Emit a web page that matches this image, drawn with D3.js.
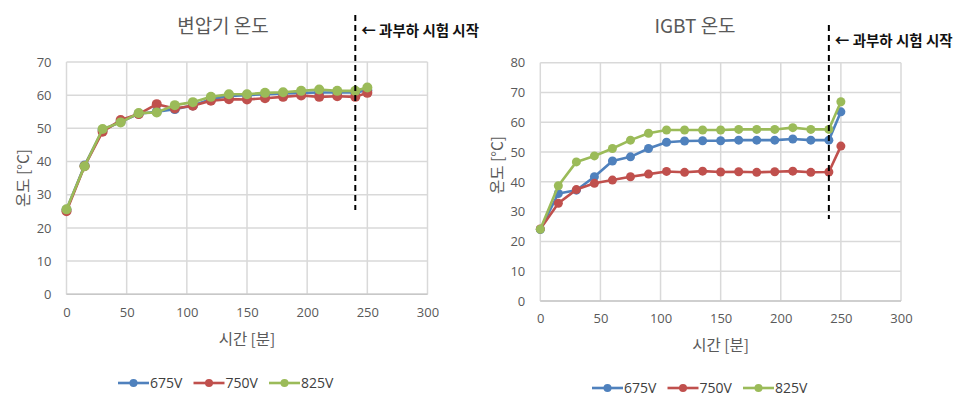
<!DOCTYPE html>
<html><head><meta charset="utf-8">
<script src="https://cdn.jsdelivr.net/npm/d3@7"></script>
<style>
body{margin:0;background:#fff;}
text{font-family:"Noto Sans CJK KR","Noto Sans",sans-serif;}
</style></head>
<body><svg id="c" width="968" height="411"></svg>
<script>
const times = [0,15,30,45,60,75,90,105,120,135,150,165,180,195,210,225,240,250];
const seriesNames = ["675V","750V","825V"];
const colors = ["#4f81bd","#c0504d","#9bbb59"];
// 변압기 온도
const trans675 = [25.5,38.8,49.5,52.0,54.4,55.0,55.8,56.9,58.8,59.8,60.0,60.3,60.5,60.7,60.8,60.8,60.8,61.5];
const trans750 = [25.0,38.6,49.0,52.5,54.3,57.3,56.0,56.8,58.3,58.8,58.7,59.1,59.5,59.9,59.5,59.7,59.5,60.7];
const trans825 = [25.6,38.6,49.8,51.8,54.6,54.8,57.0,57.9,59.5,60.3,60.3,60.7,60.9,61.3,61.7,61.3,61.3,62.3];
// IGBT 온도
const igbt675 = [24.0,36.1,37.2,41.7,47.0,48.4,51.2,53.3,53.7,53.8,53.8,54.0,54.0,54.0,54.4,54.0,54.0,63.5];
const igbt750 = [24.2,32.8,37.4,39.5,40.6,41.7,42.6,43.5,43.2,43.6,43.3,43.4,43.2,43.4,43.6,43.2,43.3,52.0];
const igbt825 = [24.1,38.7,46.7,48.7,51.2,54.0,56.3,57.4,57.4,57.4,57.4,57.6,57.6,57.6,58.2,57.6,57.6,66.9];
const xTicks = [0,50,100,150,200,250,300];
const yTicksLeft = [0,10,20,30,40,50,60,70];
const yTicksRight = [0,10,20,30,40,50,60,70,80];
const overloadTime = 240;
const annotation = "← 과부하 시험 시작";

const svg = d3.select("#c");

function drawChart(cfg){
  const g = svg.append("g");
  const x = d3.scaleLinear().domain([0,300]).range([cfg.x0,cfg.x1]);
  const y = d3.scaleLinear().domain([0,cfg.ymax]).range([cfg.y0,cfg.y1]);
  // gridlines
  g.append("g").selectAll("line").data(cfg.yTicks).join("line")
    .attr("x1",x(0)).attr("x2",x(300)).attr("y1",d=>y(d)).attr("y2",d=>y(d))
    .attr("stroke","#d9d9d9").attr("stroke-width",1.5);
  g.append("g").selectAll("line").data(xTicks).join("line")
    .attr("x1",d=>x(d)).attr("x2",d=>x(d)).attr("y1",y(0)).attr("y2",y(cfg.ymax))
    .attr("stroke","#d9d9d9").attr("stroke-width",1.5);
  g.append("line").attr("x1",x(0)).attr("x2",x(300)).attr("y1",y(0)).attr("y2",y(0))
    .attr("stroke","#c8c8c8").attr("stroke-width",1.5);
  // axes labels
  const xa = g.append("g").attr("transform",`translate(0,${y(0)})`)
    .call(d3.axisBottom(x).tickValues(xTicks).tickSize(0).tickPadding(13));
  xa.select(".domain").remove();
  xa.selectAll("text").attr("font-size",13).attr("fill","#595959")
    .style("font-family","'Open Sans','Noto Sans',sans-serif");
  const ya = g.append("g").attr("transform",`translate(${x(0)},0)`)
    .call(d3.axisLeft(y).tickValues(cfg.yTicks).tickSize(0).tickPadding(15));
  ya.select(".domain").remove();
  ya.selectAll("text").attr("font-size",13).attr("fill","#595959")
    .style("font-family","'Open Sans','Noto Sans',sans-serif");
  // titles
  g.append("text").attr("x",cfg.titleX).attr("y",33).attr("text-anchor","middle")
    .attr("font-size",19).attr("fill","#595959").text(cfg.title);
  g.append("text").attr("x",(x(0)+x(300))/2).attr("y",cfg.xlabY).attr("text-anchor","middle")
    .attr("font-size",15.5).attr("fill","#595959").text("시간 [분]");
  g.append("text").attr("transform",`translate(${cfg.ylabX},${cfg.ylabY}) rotate(-90)`)
    .attr("text-anchor","middle").attr("font-size",15.5).attr("fill","#595959").text("온도 [°C]");
  // series
  const line = d3.line().x((d,i)=>x(times[i])).y(d=>y(d));
  cfg.data.forEach((vals,k)=>{
    const sg = g.append("g");
    sg.append("path").datum(vals).attr("d",line).attr("fill","none")
      .attr("stroke",colors[k]).attr("stroke-width",2.6).attr("stroke-linejoin","round");
    sg.selectAll("circle").data(vals).join("circle")
      .attr("cx",(d,i)=>x(times[i])).attr("cy",d=>y(d)).attr("r",cfg.r).attr("fill",colors[k]);
  });
  // dashed overload line
  g.append("line").attr("x1",x(overloadTime)).attr("x2",x(overloadTime))
    .attr("y1",cfg.dashTop).attr("y2",cfg.dashBot)
    .attr("stroke","#000").attr("stroke-width",2).attr("stroke-dasharray","6,4");
  g.append("text").attr("x",x(overloadTime)+6).attr("y",cfg.annY)
    .attr("font-size",14.5).attr("font-weight","bold").attr("fill","#111").text(annotation);
  // legend
  const lg = g.append("g").attr("transform",`translate(${cfg.legX},${cfg.legY})`);
  seriesNames.forEach((n,k)=>{
    const it = lg.append("g").attr("transform",`translate(${k*75.5},0)`);
    it.append("line").attr("x1",0).attr("x2",31).attr("y1",0).attr("y2",0)
      .attr("stroke",colors[k]).attr("stroke-width",2.6);
    it.append("circle").attr("cx",15.5).attr("cy",0).attr("r",4).attr("fill",colors[k]);
    it.append("text").attr("x",32).attr("y",5).attr("font-size",14).attr("fill","#404040")
      .style("font-family","'Open Sans','Noto Sans',sans-serif").text(n);
  });
}

drawChart({title:"변압기 온도",titleX:223,x0:66.5,x1:427.5,y0:294.3,y1:62,ymax:70,yTicks:yTicksLeft,
  data:[trans675,trans750,trans825],r:5,dashTop:15,dashBot:210,annY:36,
  xlabY:345,ylabX:29,ylabY:178,legX:118,legY:383});
drawChart({title:"IGBT 온도",titleX:695,x0:540.3,x1:901,y0:301,y1:62.7,ymax:80,yTicks:yTicksRight,
  data:[igbt675,igbt750,igbt825],r:4.5,dashTop:25,dashBot:219,annY:46,
  xlabY:351,ylabX:503,ylabY:165,legX:592,legY:388});
</script></body></html>
